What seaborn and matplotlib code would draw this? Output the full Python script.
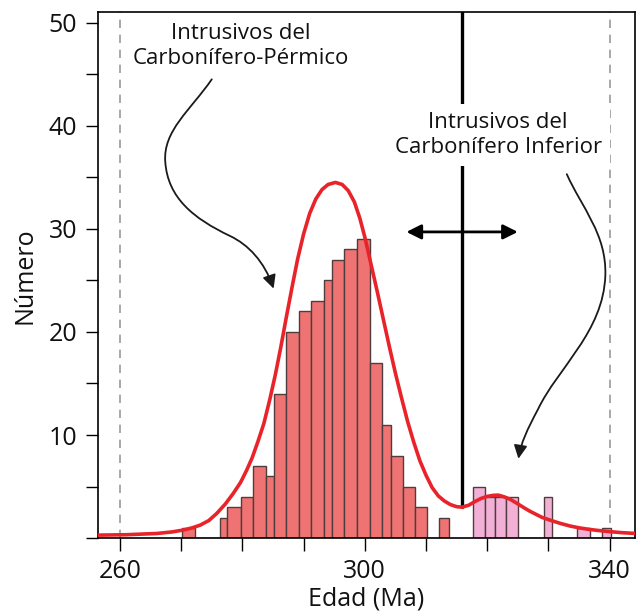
import numpy as np
import matplotlib
matplotlib.use('Agg')
import matplotlib.pyplot as plt
import seaborn as sns
from matplotlib.path import Path
from matplotlib.patches import FancyArrowPatch
from matplotlib.ticker import FixedLocator

# histogram bins (Ma) and counts
red_edges = [270.2, 272.2, 276.3, 277.5, 279.7, 281.8, 283.8, 285.1, 287.1, 289.2, 291.2,
             293.3, 294.7, 296.6, 298.7, 300.8, 302.8, 304.2, 306.2, 308.2, 310.2, 312.2, 313.7]
red_counts = [1, 0, 2, 3, 4, 7, 6, 14, 20, 22, 23, 25, 27, 28, 29, 17, 11, 8, 5, 3, 0, 2]

pink_edges = [317.7, 319.7, 321.2, 323.1, 325.1, 329.2, 330.6, 334.7, 336.8, 338.7, 340.2]
pink_counts = [5, 4, 4, 4, 0, 4, 0, 1, 0, 1]

# density curve
curve_age = [256.4, 261.0, 266.0, 268.5, 270.3, 271.8, 273.1, 274.5, 275.8, 277.2, 278.5,
             279.7, 280.7, 281.6, 282.5, 283.5, 284.5, 285.4, 286.3, 287.2, 288.1, 289.0,
             290.0, 291.0, 292.0, 293.0, 294.0, 295.2, 296.3, 297.3, 298.3, 299.2, 300.0,
             301.0, 302.0, 303.0, 304.0, 305.0, 306.0, 307.0, 308.0, 309.0, 310.0, 311.0,
             312.0, 313.0, 314.0, 315.0, 315.9, 317.0, 318.0, 319.0, 320.0, 321.0, 321.8,
             322.8, 323.8, 324.9, 326.0, 327.0, 328.0, 329.0, 330.5, 332.0, 333.5, 335.0,
             336.5, 338.0, 340.0, 342.0, 344.3]
curve_n = [0.29, 0.33, 0.45, 0.6, 0.78, 1.0, 1.26, 1.7, 2.39, 3.3, 4.33,
           5.4, 6.59, 7.8, 9.3, 11.1, 13.5, 15.9, 18.6, 21.5, 24.3, 27.0,
           29.5, 31.5, 32.9, 33.8, 34.3, 34.5, 34.3, 33.7, 32.6, 31.0, 29.2,
           26.6, 24.0, 21.3, 18.6, 16.0, 13.6, 11.3, 9.3, 7.5, 6.1, 4.9,
           4.1, 3.6, 3.25, 3.05, 3.0, 3.2, 3.55, 3.85, 4.05, 4.15, 4.17,
           4.0, 3.75, 3.36, 2.95, 2.6, 2.3, 2.0, 1.7, 1.42, 1.18, 1.0,
           0.86, 0.75, 0.63, 0.53, 0.45]

red_mid = [(a + b) / 2 for a, b in zip(red_edges[:-1], red_edges[1:])]
pink_mid = [(a + b) / 2 for a, b in zip(pink_edges[:-1], pink_edges[1:])]

sns.set_style('ticks')
plt.rcParams['font.family'] = ['Open Sans', 'DejaVu Sans']

fig = plt.figure(figsize=(6.36, 6.15), dpi=100)
ax = fig.add_axes([0.154, 0.125, 0.844, 0.855])

# reference lines
for x in [260, 340]:
    ax.axvline(x, color='#9a9a9a', ls=(0, (5, 4)), lw=1.2, zorder=1)

sns.histplot(x=red_mid, weights=red_counts, bins=red_edges, color='#f07373', alpha=1,
             edgecolor='#4f3d3d', linewidth=1, ax=ax, zorder=2)
sns.histplot(x=pink_mid, weights=pink_counts, bins=pink_edges, color='#f2b0d6', alpha=1,
             edgecolor='#4f3d3d', linewidth=1, ax=ax, zorder=2)

sns.lineplot(x=curve_age, y=curve_n, color='#e8242a', lw=2.6, ax=ax, zorder=4, sort=False)

# separation line and double arrow
ax.plot([315.9, 315.9], [3.0, 51], color='black', lw=2.4, zorder=3)
ax.annotate('', xy=(325.0, 29.7), xytext=(306.8, 29.7),
            arrowprops=dict(arrowstyle='<|-|>', color='black', lw=2, mutation_scale=22,
                            shrinkA=0, shrinkB=0), zorder=5)

ax.text(279.7, 47.7, 'Intrusivos del\nCarbonífero-Pérmico', ha='center', va='center',
        fontsize=16, linespacing=1.25, color='#111111')
ax.text(321.8, 39.1, 'Intrusivos del\nCarbonífero Inferior', ha='center', va='center',
        fontsize=16, linespacing=1.25, color='#111111', zorder=6,
        bbox=dict(facecolor='white', edgecolor='none', pad=6))

# curved pointers
C = Path.CURVE4
left_path = Path([(275.0, 44.5), (271.5, 41.5), (267.0, 39.5), (267.4, 36.5),
                  (267.8, 33.0), (272.0, 31.0), (278.0, 29.3),
                  (281.0, 28.45), (283.6, 26.8), (285.1, 24.2)],
                 [Path.MOVETO, C, C, C, C, C, C, C, C, C])
right_path = Path([(333.0, 35.3), (335.5, 32.0), (339.5, 29.5), (339.3, 25.5),
                   (339.0, 20.0), (331.5, 16.5), (328.3, 12.5),
                   (326.5, 10.5), (325.5, 9.2), (325.1, 7.7)],
                  [Path.MOVETO, C, C, C, C, C, C, C, C, C])
for p in [left_path, right_path]:
    ax.add_patch(FancyArrowPatch(path=p, arrowstyle='-|>', color='#1a1a1a', lw=1.3,
                                 mutation_scale=20, zorder=5))

ax.set_xlim(256.4, 344.1)
ax.set_ylim(0, 51)
ax.xaxis.set_major_locator(FixedLocator([260, 300, 340]))
ax.xaxis.set_minor_locator(FixedLocator([270, 280, 290, 310, 320, 330]))
ax.yaxis.set_major_locator(FixedLocator([10, 20, 30, 40, 50]))
ax.yaxis.set_minor_locator(FixedLocator([0, 5, 15, 25, 35, 45]))
ax.tick_params(which='both', direction='out', length=9, width=1, color='black',
               labelsize=18, pad=6, labelcolor='#111111')
for s in ax.spines.values():
    s.set_color('black')
    s.set_linewidth(1.2)

ax.set_xlabel('Edad (Ma)', fontsize=18, labelpad=2, color='#111111')
ax.set_ylabel('Número', fontsize=18, labelpad=8, color='#111111')

fig.savefig('out.png', dpi=100)
